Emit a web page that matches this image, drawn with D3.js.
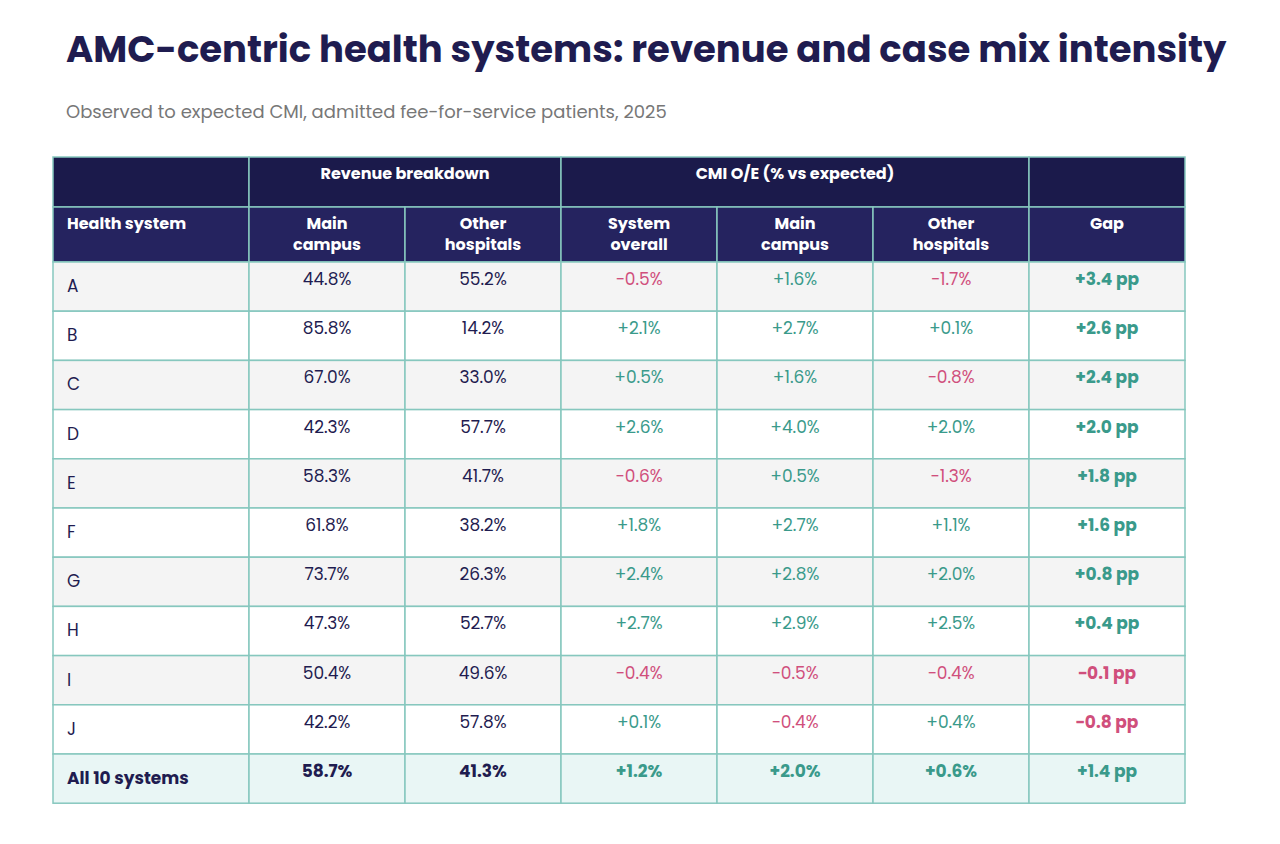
<!DOCTYPE html>
<html><head><meta charset="utf-8">
<script src="https://cdn.jsdelivr.net/npm/d3@7"></script>
<style>body{margin:0;background:#fff;font-family:Poppins,Inter,"Noto Sans",sans-serif;}</style>
</head><body><div id="chart"></div>
<script>
const systems = ["A","B","C","D","E","F","G","H","I","J"];
const mainShare = [44.8,85.8,67.0,42.3,58.3,61.8,73.7,47.3,50.4,42.2];
const otherShare = [55.2,14.2,33.0,57.7,41.7,38.2,26.3,52.7,49.6,57.8];
const cmiOverall = [-0.5,2.1,0.5,2.6,-0.6,1.8,2.4,2.7,-0.4,0.1];
const cmiMain = [1.6,2.7,1.6,4.0,0.5,2.7,2.8,2.9,-0.5,-0.4];
const cmiOther = [-1.7,0.1,-0.8,2.0,-1.3,1.1,2.0,2.5,-0.4,0.4];
const gap = [3.4,2.6,2.4,2.0,1.8,1.6,0.8,0.4,-0.1,-0.8];
const total = {label:"All 10 systems", main:58.7, other:41.3, overall:1.2, cmain:2.0, cother:0.6, gap:1.4};

const navy = "#1f1c50", green = "#3a9a8b", pink = "#d04f7c", border = "#86c7be";
const svg = d3.select("#chart").append("svg").attr("width",1280).attr("height",844);

svg.append("text").attr("x",66).attr("y",62).attr("font-size",37).attr("font-weight",700)
  .attr("fill",navy).text("AMC-centric health systems: revenue and case mix intensity");
svg.append("text").attr("x",66).attr("y",118).attr("font-size",18).attr("fill","#777")
  .text("Observed to expected CMI, admitted fee-for-service patients, 2025");

const colEdges = [53,249,405,561,717,873,1029,1185];
const rowTop = 262, rowH = 49.2;
const y = d3.scaleBand().domain(d3.range(11)).range([rowTop, rowTop + rowH*11]);

// header
const h1 = [[0,1,""],[1,3,"Revenue breakdown"],[3,6,"CMI O/E (% vs expected)"],[6,7,""]];
h1.forEach(([a,b,t]) => {
  svg.append("rect").attr("x",colEdges[a]).attr("y",157).attr("width",colEdges[b]-colEdges[a]).attr("height",50)
    .attr("fill","#1b1a4b").attr("stroke",border).attr("stroke-width",1.5);
  svg.append("text").attr("x",(colEdges[a]+colEdges[b])/2).attr("y",179).attr("text-anchor","middle")
    .attr("font-size",16).attr("font-weight",700).attr("fill","#fff").text(t);
});
const h2 = [["Health system"],["Main","campus"],["Other","hospitals"],["System","overall"],["Main","campus"],["Other","hospitals"],["Gap"]];
h2.forEach((lines,i) => {
  svg.append("rect").attr("x",colEdges[i]).attr("y",207).attr("width",colEdges[i+1]-colEdges[i]).attr("height",55)
    .attr("fill","#25235f").attr("stroke",border).attr("stroke-width",1.5);
  const cx = i===0 ? colEdges[0]+14 : (colEdges[i]+colEdges[i+1])/2;
  const t = svg.append("text").attr("y",229).attr("font-size",16).attr("font-weight",700).attr("fill","#fff")
    .attr("x", cx).attr("text-anchor", i===0 ? "start" : "middle");
  lines.forEach((l,k) => t.append("tspan").attr("x", cx).attr("dy", k?21:0).text(l));
});

const pct = v => v.toFixed(1) + "%";
const sgn = v => (v>0?"+":v<0?"\u2212":"") + Math.abs(v).toFixed(1);
const rows = systems.map((s,i) => ({label:s, vals:[mainShare[i],otherShare[i],cmiOverall[i],cmiMain[i],cmiOther[i],gap[i]], total:false}));
rows.push({label:total.label, vals:[total.main,total.other,total.overall,total.cmain,total.cother,total.gap], total:true});

rows.forEach((r,i) => {
  const fill = r.total ? "#e9f6f5" : (i%2===0 ? "#f4f4f4" : "#fff");
  for (let c=0;c<7;c++) {
    svg.append("rect").attr("x",colEdges[c]).attr("y",y(i)).attr("width",colEdges[c+1]-colEdges[c]).attr("height",y.bandwidth())
      .attr("fill",fill).attr("stroke",border).attr("stroke-width",1.5);
  }
  svg.append("text").attr("x",colEdges[0]+14).attr("y",y(i)+30).attr("font-size",17)
    .attr("font-weight", r.total?700:400).attr("fill",navy).text(r.label);
  r.vals.forEach((v,k) => {
    let txt, col;
    if (k<2) { txt = pct(v); col = navy; }
    else if (k<5) { txt = sgn(v) + "%"; col = v>=0 ? green : pink; }
    else { txt = sgn(v) + " pp"; col = v>=0 ? green : pink; }
    svg.append("text").attr("x",(colEdges[k+1]+colEdges[k+2])/2).attr("y",y(i)+23).attr("text-anchor","middle")
      .attr("font-size",17).attr("font-weight", (r.total||k===5)?700:400).attr("fill",col).text(txt);
  });
});
</script></body></html>
